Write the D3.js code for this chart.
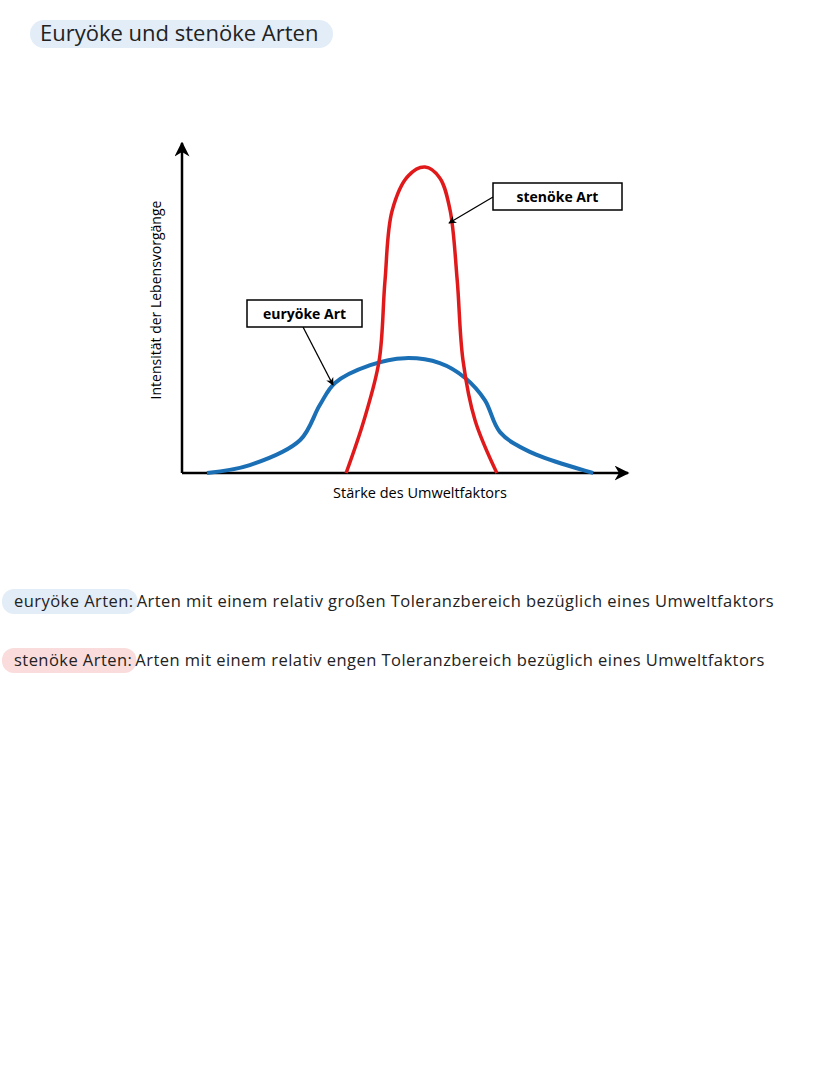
<!DOCTYPE html><html><head><meta charset="utf-8"><script src="https://cdn.jsdelivr.net/npm/d3@7"></script>
<style>body{margin:0;background:#fff}</style></head><body><svg id="c" width="828" height="1069"></svg><script>
const euryX=[5.6,15.2,26.5,30.9,34.3,42.2,50,57.8,63.5,67.9,71.3,78,92.2];
const euryY=[0,2.4,10,20.6,27.3,32.7,34.8,33.3,28.8,22.1,12.4,6.4,0];
const stenoX=[36.8,40.8,44.2,45.5,47.1,50.7,54.5,57.8,60.1,61.7,63,65.7,70.6];
const stenoY=[0,16,34,58,79.4,90,92.7,89.4,79.7,58.5,34.2,16,0];
const labels={title:"Euryöke und stenöke Arten",xAxis:"Stärke des Umweltfaktors",yAxis:"Intensität der Lebensvorgänge",eury:"euryöke Art",steno:"stenöke Art"};
const defs=[["euryöke Arten:","Arten mit einem relativ großen Toleranzbereich bezüglich eines Umweltfaktors","#e2edf8"],["stenöke Arten:","Arten mit einem relativ engen Toleranzbereich bezüglich eines Umweltfaktors","#fadcdc"]];
const svg=d3.select("#c"),F="'Open Sans',sans-serif";
svg.append("rect").attr("x",30).attr("y",20).attr("width",303).attr("height",28).attr("rx",14).attr("fill","#e2edf8");
svg.append("text").attr("x",40).attr("y",41).attr("font-family",F).attr("font-size",22).attr("fill","#222").text(labels.title);
const x=d3.scaleLinear([0,100],[182,628]),y=d3.scaleLinear([0,100],[473,143]);
svg.append("defs").append("marker").attr("id","ah").attr("viewBox","0 0 10 10").attr("refX",9).attr("refY",5).attr("markerWidth",6).attr("markerHeight",6).attr("orient","auto").append("path").attr("d","M0,0L10,5L0,10L3,5Z").attr("fill","#000");
svg.append("line").attr("x1",x(0)).attr("y1",y(0)).attr("x2",x(100)).attr("y2",y(0)).attr("stroke","#000").attr("stroke-width",2.5).attr("marker-end","url(#ah)");
svg.append("line").attr("x1",x(0)).attr("y1",y(0)).attr("x2",x(0)).attr("y2",y(100)).attr("stroke","#000").attr("stroke-width",2.5).attr("marker-end","url(#ah)");
svg.append("text").attr("x",420).attr("y",498).attr("text-anchor","middle").attr("font-family",F).attr("font-size",14.5).text(labels.xAxis);
svg.append("text").attr("transform","translate(161,300) rotate(-90)").attr("text-anchor","middle").attr("font-family",F).attr("font-size",14).text(labels.yAxis);
const line=d3.line().x(d=>x(d[0])).y(d=>y(d[1])).curve(d3.curveCatmullRom.alpha(0.5));
svg.append("path").attr("d",line(euryX.map((v,i)=>[v,euryY[i]]))).attr("fill","none").attr("stroke","#1a6fb5").attr("stroke-width",4);
svg.append("path").attr("d",line(stenoX.map((v,i)=>[v,stenoY[i]]))).attr("fill","none").attr("stroke","#e0191b").attr("stroke-width",3.5);
function box(bx,by,w,h,t,ax1,ay1,ax2,ay2){svg.append("line").attr("x1",ax1).attr("y1",ay1).attr("x2",ax2).attr("y2",ay2).attr("stroke","#000").attr("stroke-width",1.3).attr("marker-end","url(#ah)");
svg.append("rect").attr("x",bx).attr("y",by).attr("width",w).attr("height",h).attr("fill","#fff").attr("stroke","#000").attr("stroke-width",1.5);
svg.append("text").attr("x",bx+w/2).attr("y",by+h/2+5).attr("text-anchor","middle").attr("font-family",F).attr("font-weight","bold").attr("font-size",14).text(t);}
box(493,183,129,27,labels.steno,493,197,449,223);
box(247,300,115,27,labels.eury,303,327,333,385);
defs.forEach((d,i)=>{const yy=601+i*59;
const t=svg.append("text").attr("x",14).attr("y",yy+6).attr("font-family",F).attr("font-size",16.5).attr("letter-spacing",0.45).attr("fill","#222").text(d[0]);
const w=t.node().getComputedTextLength();
svg.insert("rect","text").attr("x",2).attr("y",yy-12).attr("width",w+16).attr("height",25).attr("rx",12).attr("fill",d[2]);
svg.append("text").attr("x",14+w+3).attr("y",yy+6).attr("font-family",F).attr("font-size",16.5).attr("letter-spacing",0.45).attr("fill","#222").text(d[1]);});
</script></body></html>
